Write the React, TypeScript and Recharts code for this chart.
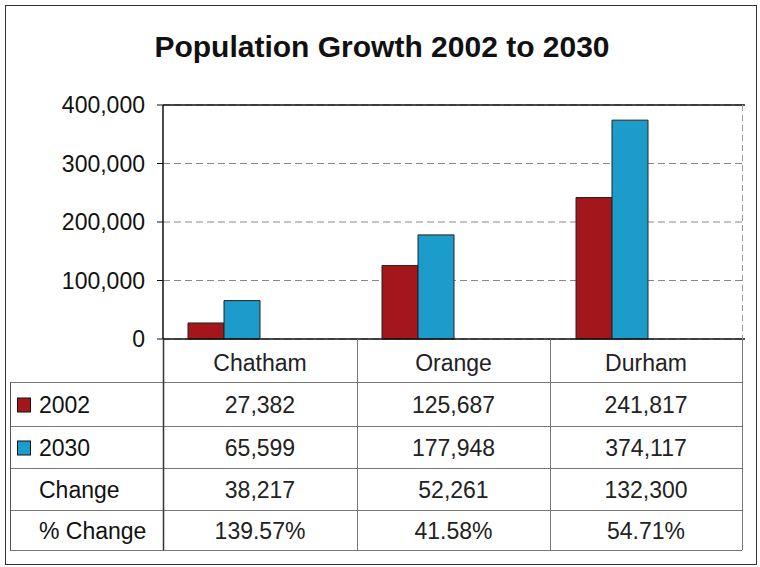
import React from 'react';
import { BarChart, Bar, XAxis, YAxis, CartesianGrid, ReferenceLine } from 'recharts';

const categories = ['Chatham', 'Orange', 'Durham'];
const pop2002 = [27382, 125687, 241817];
const pop2030 = [65599, 177948, 374117];
const changeValues = [38217, 52261, 132300];
const pctChange = ['139.57%', '41.58%', '54.71%'];
const yTicks = [0, 100000, 200000, 300000, 400000];
const seriesNames = ['2002', '2030'];

const RED = '#a3161b';
const BLUE = '#1c9ccb';
const FONT = '"Liberation Sans", Arial, Helvetica, sans-serif';

const data = categories.map((c, i) => ({
  name: c,
  y2002: pop2002[i],
  y2030: pop2030[i],
  padA: null,
  padB: null,
}));

const fmt = (v: number) => v.toLocaleString('en-US');

const colX = [10, 163, 357, 550, 742];
const rowY = [339, 382, 426, 468, 510, 550];

export default function App() {
  const rows: { label: string; color?: string; values: string[] }[] = [
    { label: seriesNames[0], color: RED, values: pop2002.map(fmt) },
    { label: seriesNames[1], color: BLUE, values: pop2030.map(fmt) },
    { label: 'Change', values: changeValues.map(fmt) },
    { label: '% Change', values: pctChange },
  ];
  return (
    <div style={{ position: 'absolute', left: 0, top: 0, width: 760, height: 567, background: '#fff', fontFamily: FONT }}>
      <BarChart
        width={760}
        height={567}
        data={data}
        margin={{ top: 105, right: 15, bottom: 227, left: 0 }}
        barSize={36}
        barGap={0}
      >
        <CartesianGrid vertical={false} stroke="#888" strokeDasharray="7 4" />
        <XAxis dataKey="name" tick={false} tickLine={false} height={1} axisLine={{ stroke: '#111', strokeWidth: 1.5 }} />
        <YAxis
          type="number"
          domain={[0, 400000]}
          ticks={yTicks}
          interval={0}
          width={163}
          tickFormatter={fmt}
          tickSize={6}
          tickMargin={12}
          axisLine={{ stroke: '#111', strokeWidth: 1.5 }}
          tickLine={{ stroke: '#111' }}
          tick={{ fontSize: 23, fill: '#111', fontFamily: FONT }}
        />
        <ReferenceLine y={400000} stroke="#111" strokeWidth={1.5} />
        <Bar dataKey="y2002" fill={RED} stroke="#222" strokeWidth={1} isAnimationActive={false} />
        <Bar dataKey="y2030" fill={BLUE} stroke="#222" strokeWidth={1} isAnimationActive={false} />
        <Bar dataKey="padA" fill="none" isAnimationActive={false} />
        <Bar dataKey="padB" fill="none" isAnimationActive={false} />
      </BarChart>
      <svg
        width={760}
        height={567}
        style={{ position: 'absolute', left: 0, top: 0, pointerEvents: 'none' }}
      >
        <rect x={5.5} y={5.5} width={751} height={559} fill="none" stroke="#333" strokeWidth={1} />
        <text x={382} y={57} textAnchor="middle" fontSize={30} fontWeight="bold" fill="#111" fontFamily={FONT}>
          Population Growth 2002 to 2030
        </text>
        {/* plot right edge */}
        <line x1={742.5} y1={105} x2={742.5} y2={339} stroke="#999" strokeDasharray="6 4" />
        {/* table horizontal lines */}
        {rowY.slice(1).map((y, i) => (
          <line key={'h' + i} x1={colX[0]} y1={y + 0.5} x2={colX[4]} y2={y + 0.5} stroke="#777" strokeWidth={1} />
        ))}
        {/* table vertical lines */}
        <line x1={colX[0] + 0.5} y1={rowY[1]} x2={colX[0] + 0.5} y2={rowY[5]} stroke="#555" />
        <line x1={colX[1] + 0.5} y1={rowY[0]} x2={colX[1] + 0.5} y2={rowY[5]} stroke="#333" strokeWidth={1.5} />
        {colX.slice(2).map((x, i) => (
          <line key={'v' + i} x1={x + 0.5} y1={rowY[0]} x2={x + 0.5} y2={rowY[5]} stroke="#777" />
        ))}
        {/* header */}
        {categories.map((c, i) => (
          <text
            key={'c' + i}
            x={(colX[i + 1] + colX[i + 2]) / 2}
            y={(rowY[0] + rowY[1]) / 2 + 2}
            textAnchor="middle"
            dominantBaseline="central"
            fontSize={23}
            fill="#222"
            fontFamily={FONT}
          >
            {c}
          </text>
        ))}
        {rows.map((r, ri) => {
          const cy = (rowY[ri + 1] + rowY[ri + 2]) / 2 + 1;
          return (
            <g key={'r' + ri}>
              {r.color && (
                <rect x={17.5} y={cy - 7} width={13} height={14} fill={r.color} stroke="#111" strokeWidth={1} />
              )}
              <text x={39} y={cy} dominantBaseline="central" fontSize={23} fill="#111" fontFamily={FONT}>
                {r.label}
              </text>
              {r.values.map((v, ci) => (
                <text
                  key={ci}
                  x={(colX[ci + 1] + colX[ci + 2]) / 2}
                  y={cy}
                  textAnchor="middle"
                  dominantBaseline="central"
                  fontSize={23}
                  fill="#222"
                  fontFamily={FONT}
                >
                  {v}
                </text>
              ))}
            </g>
          );
        })}
      </svg>
    </div>
  );
}
